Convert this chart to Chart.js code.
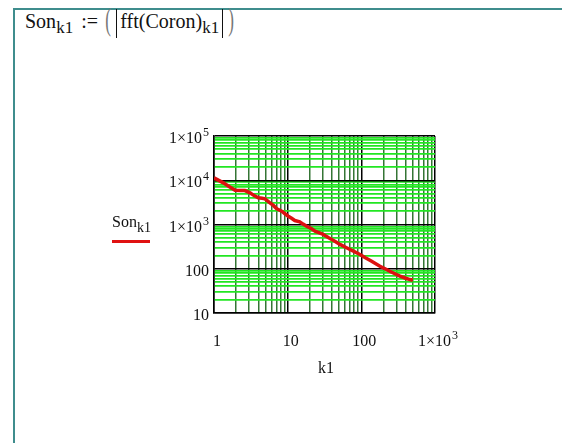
<!DOCTYPE html>
<html>
<head>
<meta charset="utf-8">
<script src="https://cdn.jsdelivr.net/npm/chart.js@4.4.1/dist/chart.umd.min.js"></script>
<style>
  html, body { margin: 0; padding: 0; background: #fff; width: 562px; height: 443px; overflow: hidden; }
  #frame { position: absolute; left: 13px; top: 8px; width: 549px; height: 435px;
           border-left: 2px solid #3f8d8d; border-top: 2px solid #3f8d8d; box-sizing: border-box; }
  #plot { position: absolute; left: 0; top: 0; }
  .serif { font-family: "Liberation Serif", "DejaVu Serif", serif; color: #111; }
  #formula { position: absolute; left: 25px; top: 1px; font-size: 20px; display: flex; align-items: center; white-space: nowrap; height: 40px; }
  #formula .sub { font-size: 17px; position: relative; top: 7px; }
  #formula .paren { font-size: 31px; color: #777; transform: scaleX(0.55); display: inline-block; position: relative; top: -1px; }
  #formula .bar { display: inline-block; width: 0; height: 29px; border-left: 1.5px solid #111; margin: 0 3px; position: relative; top: 2px; }
  #ylab { position: absolute; left: 112px; top: 213px; font-size: 16px; white-space: nowrap; }
  #ylab .sub { font-size: 14px; position: relative; top: 5px; }
  #ylab .line { position: absolute; left: 0; top: 27px; width: 38px; height: 3px; background: #e01212; }
  #xlab { position: absolute; left: 318px; top: 359px; font-size: 16px; }
</style>
</head>
<body>
<div id="frame"></div>
<div id="formula" class="serif">
  <span>Son</span><span class="sub">k1</span>
  <span style="margin-left:8px">:=</span>
  <span class="paren" style="margin-left:5px">(</span>
  <span class="bar"></span><span>fft(Coron)</span><span class="sub">k1</span><span class="bar"></span>
  <span class="paren">)</span>
</div>
<canvas id="plot" width="562" height="443"></canvas>
<div id="ylab" class="serif">Son<span class="sub">k1</span><div class="line"></div></div>
<div id="xlab" class="serif">k1</div>
<script>
// Spectrum magnitude |fft(Coron)| against harmonic index k1
const k1Values = [1, 1.34, 1.6, 1.93, 2.3, 2.63, 3.08, 3.5, 3.99, 4.5, 4.92, 5.75, 6.4, 7.1, 8.3, 9.2,
  10.2, 11.3, 12.5, 14.6, 16.2, 18.1, 21.2, 23.5, 27, 30.5, 36, 43.7, 52, 63, 78, 95.7,
  115, 138, 179, 210, 243, 290, 334, 400, 458, 500];
const sonValues = [11300, 8730, 7200, 5940, 5900, 5850, 5200, 4500, 4010, 3900, 3800, 3090, 2700, 2260, 2000, 1750,
  1540, 1380, 1230, 1150, 1020, 916, 800, 707, 650, 594, 500, 420, 350, 298, 250, 210,
  175, 148, 114, 100, 88, 76, 68, 61, 57, 55];

// Decade ticks and their labels ("^" marks a superscript exponent)
const xDecades = [1, 10, 100, 1000];
const xTickLabels = ['1', '10', '100', '1×10^3'];
const yDecades = [10, 100, 1000, 10000, 100000];
const yTickLabels = ['10', '100', '1×10^3', '1×10^4', '1×10^5'];

function withMinors(decades) {
  const out = [];
  decades.forEach((d, i) => {
    out.push(d);
    if (i < decades.length - 1) for (let m = 2; m <= 9; m++) out.push(d * m);
  });
  return out;
}
function isDecade(list, v) { return list.some(d => Math.abs(d - v) < d * 1e-6); }

const SERIF = '"Liberation Serif", "DejaVu Serif", serif';
const BASE_FONT = '16px ' + SERIF;
const EXP_FONT = '12px ' + SERIF;

// Draws decade labels with a raised exponent, e.g. 1×10 followed by a small 4
function drawTickLabel(ctx, text, x, y, align) {
  const parts = text.split('^');
  ctx.font = BASE_FONT;
  const wBase = ctx.measureText(parts[0]).width;
  ctx.font = EXP_FONT;
  const wExp = parts[1] ? ctx.measureText(parts[1]).width + 1 : 0;
  const total = wBase + wExp;
  let left = align === 'right' ? x - total : x - total / 2;
  ctx.fillStyle = '#111';
  ctx.textBaseline = 'alphabetic';
  ctx.textAlign = 'left';
  ctx.font = BASE_FONT;
  ctx.fillText(parts[0], left, y);
  if (parts[1]) {
    ctx.font = EXP_FONT;
    ctx.fillText(parts[1], left + wBase + 1, y - 7);
  }
}

const decadeLabels = {
  id: 'decadeLabels',
  afterDraw(chart) {
    const ctx = chart.ctx;
    const xs = chart.scales.x, ys = chart.scales.y, area = chart.chartArea;
    ctx.save();
    xDecades.forEach((v, i) => {
      drawTickLabel(ctx, xTickLabels[i], xs.getPixelForValue(v) + 3, area.bottom + 33, 'center');
    });
    yDecades.forEach((v, i) => {
      drawTickLabel(ctx, yTickLabels[i], area.left - 5, ys.getPixelForValue(v) + 7, 'right');
    });
    ctx.restore();
  }
};

const points = k1Values.map((k, i) => ({ x: k, y: sonValues[i] }));

new Chart(document.getElementById('plot'), {
  type: 'line',
  data: {
    datasets: [{
      data: points,
      borderColor: '#dd1010',
      borderWidth: 3.5,
      pointRadius: 0,
      tension: 0,
      fill: false
    }]
  },
  options: {
    responsive: false,
    animation: false,
    devicePixelRatio: 1,
    layout: { padding: { top: 136, left: 100, right: 127, bottom: 30 } },
    plugins: { legend: { display: false }, tooltip: { enabled: false } },
    scales: {
      x: {
        type: 'logarithmic',
        min: 1, max: 1000,
        afterBuildTicks: s => { s.ticks = withMinors(xDecades).map(v => ({ value: v })); },
        afterFit: s => { s.height = 443 - 30 - 313; },
        grid: {
          drawTicks: false,
          color: c => isDecade(xDecades, c.tick.value) ? '#000' : '#357535',
          lineWidth: 1.5
        },
        border: { display: true, color: '#000', width: 1.5 },
        ticks: { display: false, autoSkip: false, maxRotation: 0 }
      },
      y: {
        type: 'logarithmic',
        min: 10, max: 100000,
        afterBuildTicks: s => { s.ticks = withMinors(yDecades).map(v => ({ value: v })); },
        afterFit: s => { s.width = 114; },
        grid: {
          drawTicks: false,
          color: c => isDecade(yDecades, c.tick.value) ? '#000' : '#22e622',
          lineWidth: c => isDecade(yDecades, c.tick.value) ? 1.5 : 1.8
        },
        border: { display: true, color: '#000', width: 1.5 },
        ticks: { display: false, autoSkip: false }
      }
    }
  },
  plugins: [decadeLabels]
});
</script>
</body>
</html>
